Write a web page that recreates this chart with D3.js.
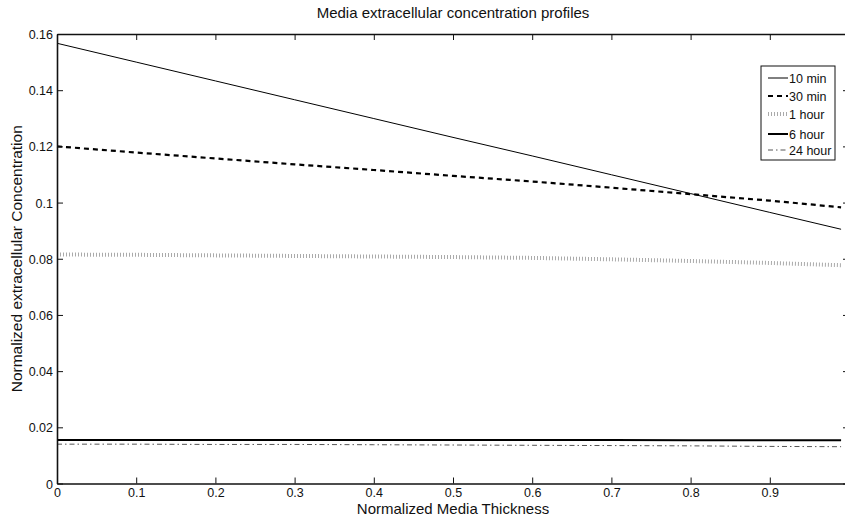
<!DOCTYPE html>
<html>
<head>
<meta charset="utf-8">
<script src="https://cdn.jsdelivr.net/npm/d3@7"></script>
<style>
  body { margin: 0; background: #fff; }
  text { font-family: "Liberation Sans", Arial, Helvetica, sans-serif; fill: #111; }
</style>
</head>
<body>
<div id="chart"></div>
<script>
// normalized thickness sample positions
const thickness = [0, 0.1, 0.2, 0.3, 0.4, 0.5, 0.6, 0.7, 0.8, 0.9, 0.99];

// concentration profiles
const min10  = [0.1567, 0.1500, 0.1433, 0.1366, 0.1299, 0.1232, 0.1166, 0.1099, 0.1032, 0.0965, 0.0905];
const min30  = [0.1200, 0.1178, 0.1157, 0.1136, 0.1116, 0.1095, 0.1075, 0.1053, 0.1030, 0.1007, 0.0983];
const hour1  = [0.0815, 0.0814, 0.0812, 0.0810, 0.0808, 0.0806, 0.0803, 0.0798, 0.0792, 0.0785, 0.0777];
const hour6  = [0.0155, 0.0155, 0.0155, 0.0155, 0.0155, 0.0155, 0.0155, 0.0155, 0.0154, 0.0154, 0.0154];
const hour24 = [0.0140, 0.0140, 0.0139, 0.0139, 0.0138, 0.0137, 0.0136, 0.0135, 0.0134, 0.0132, 0.0131];

const seriesNames = ["10 min", "30 min", "1 hour", "6 hour", "24 hour"];
const xTicks = [0, 0.1, 0.2, 0.3, 0.4, 0.5, 0.6, 0.7, 0.8, 0.9];
const yTicks = [0, 0.02, 0.04, 0.06, 0.08, 0.1, 0.12, 0.14, 0.16];

// line styles per series
const styles = [
  { color: "#000", width: 1,   dash: null },
  { color: "#000", width: 2.2, dash: "5,4" },
  { color: "#aaa", width: 4,   dash: "1,2" },
  { color: "#000", width: 2,   dash: null },
  { color: "#555", width: 1,   dash: "5,3,1.5,3" }
];

const W = 845, H = 521;
const margin = { top: 34, left: 57 };
const plotW = 792, plotH = 449.5;   // right edge lands just outside the window

const svg = d3.select("#chart").append("svg")
  .attr("width", W).attr("height", H);

const g = svg.append("g")
  .attr("transform", `translate(${margin.left},${margin.top})`);

const x = d3.scaleLinear().domain([0, 1]).range([0, plotW]);
const y = d3.scaleLinear().domain([0, 0.16]).range([plotH, 0]);

const fmt = d => d === 0 ? "0" : String(+d.toFixed(2));

// lines
const data = [min10, min30, hour1, hour6, hour24];
const line = d3.line()
  .x((d, i) => x(thickness[i]))
  .y(d => y(d));

data.forEach((vals, k) => {
  g.append("path")
    .datum(vals)
    .attr("fill", "none")
    .attr("stroke", styles[k].color)
    .attr("stroke-width", styles[k].width)
    .attr("stroke-dasharray", styles[k].dash)
    .attr("d", line);
});

// axes, ticks pointing inward, box style
const xAxis = g.append("g")
  .attr("transform", `translate(0,${plotH})`)
  .call(d3.axisBottom(x).tickValues(xTicks).tickFormat(fmt).tickSizeInner(-6).tickSizeOuter(0).tickPadding(5));
const xTop = g.append("g")
  .call(d3.axisTop(x).tickValues(xTicks).tickFormat("").tickSizeInner(-6).tickSizeOuter(0));
const yAxis = g.append("g")
  .call(d3.axisLeft(y).tickValues(yTicks).tickFormat(fmt).tickSizeInner(-6).tickSizeOuter(0).tickPadding(4));
const yRight = g.append("g")
  .attr("transform", `translate(${plotW},0)`)
  .call(d3.axisRight(y).tickValues(yTicks).tickFormat("").tickSizeInner(-6).tickSizeOuter(0));

[xAxis, xTop, yAxis, yRight].forEach(a => {
  a.select(".domain").attr("stroke", "#111").attr("stroke-width", 1.6);
  a.selectAll(".tick line").attr("stroke", "#111").attr("stroke-width", 1);
  a.selectAll("text").style("font-size", "12.5px").attr("fill", "#111");
});
yAxis.selectAll("text").attr("dy", "0.36em");

// title and axis labels
svg.append("text")
  .attr("x", margin.left + plotW / 2).attr("y", 18)
  .attr("text-anchor", "middle")
  .style("font-size", "15px")
  .text("Media extracellular concentration profiles");

svg.append("text")
  .attr("x", margin.left + plotW / 2).attr("y", 514)
  .attr("text-anchor", "middle")
  .style("font-size", "15px")
  .text("Normalized Media Thickness");

svg.append("text")
  .attr("transform", `translate(22,${margin.top + plotH / 2}) rotate(-90)`)
  .attr("text-anchor", "middle")
  .style("font-size", "15.5px")
  .text("Normalized extracellular Concentration");

// legend
const lg = svg.append("g").attr("transform", "translate(761,66)");
lg.append("rect")
  .attr("width", 74).attr("height", 94)
  .attr("fill", "#fff").attr("stroke", "#111").attr("stroke-width", 1);

const rowY = [12, 30, 48, 68, 84];
seriesNames.forEach((name, k) => {
  lg.append("line")
    .attr("x1", 7).attr("x2", 27)
    .attr("y1", rowY[k]).attr("y2", rowY[k])
    .attr("stroke", styles[k].color)
    .attr("stroke-width", styles[k].width)
    .attr("stroke-dasharray", styles[k].dash);
  lg.append("text")
    .attr("x", 28).attr("y", rowY[k])
    .attr("dy", "0.36em")
    .style("font-size", "12.5px")
    .text(name);
});
</script>
</body>
</html>
